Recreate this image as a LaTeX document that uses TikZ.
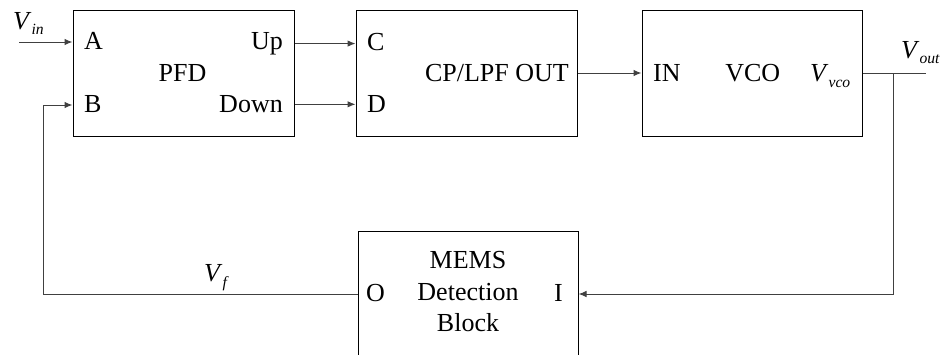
\documentclass[tikz,border=0pt]{standalone}
\usepackage{fontspec}
\setmainfont{Liberation Serif}
\usetikzlibrary{positioning,arrows.meta}
% italic signal name with a small italic index
\newcommand{\sig}[2]{\textit{#1}\raisebox{-5.5pt}{\fontsize{15.6}{16}\selectfont\textit{#2}}}
\tikzset{
    block/.style={draw, line width=1pt, minimum width=221pt, minimum height=126pt, inner sep=0pt}, % the four boxes
    port/.style={inner sep=0pt}, % pin names inside the boxes
    wire/.style={line width=1pt, draw=black!75},
    feed/.style={wire, -{Latex[length=8pt,width=6.5pt]}}, % wire with an arrow head
}

\begin{document}
\begin{tikzpicture}[x=1pt,y=-1pt,font=\fontsize{26}{31.7}\selectfont]
    \clip (0,0) rectangle (940,354);
    % blocks
    \node[block] (pfd) at (183.5,73) {};
    \node[block] (cp) at (466.5,73) {};
    \node[block, minimum width=220pt] (vco) at (752,73) {};
    \node[block, minimum width=220pt] (mems) at (468,294) {};
    % pin names
    \node[port, anchor=base west] (a) at (84,49.5) {A};
    \node[port, anchor=base west] (b) at (84,112.7) {B};
    \node[port, anchor=base east] (up) at (283,49.3) {Up};
    \node[port, anchor=base east] (down) at (283,112.7) {Down};
    \node[port, anchor=base] (pfdname) at (182.5,81.7) {PFD};
    \node[port, anchor=base west] (c) at (367,50) {C};
    \node[port, anchor=base west] (d) at (367,112.7) {D};
    \node[port, anchor=base east] (cpout) at (569,81.7) {CP/LPF OUT};
    \node[port, anchor=base west] (in) at (653,81.7) {IN};
    \node[port, anchor=base] (vconame) at (752.7,81.7) {VCO};
    \node[port, anchor=base west] (vvco) at (810,81.7) {\sig{V}{vco}};
    \node[port, anchor=base, align=center] (memsname) at (468,331.7) {MEMS\\Detection\\Block};
    \node[port, anchor=base west] (o) at (366,301.7) {O};
    \node[port, anchor=base east] (i) at (563,301.7) {I};
    % signal names
    \node[port, anchor=base west] (vinlabel) at (13,29.3) {\sig{V}{in}};
    \node[port, anchor=base west] (voutlabel) at (901,58.3) {\sig{V}{out}};
    \node[port, anchor=base west] (vflabel) at (204,281.7) {\sig{V}{f}};
    % wire ends
    \coordinate (vin) at (19,42);
    \coordinate (vout) at (925.7,73);
    \coordinate (tap) at (893.5,73);
    \coordinate (fb) at (43,105);
    % wires
    \draw[feed] (vin) -- (pfd.west |- vin);
    \draw[feed] (pfd.east |- up) -- (cp.west |- up);
    \draw[feed] (pfd.east |- down) -- (cp.west |- down);
    \draw[feed] (cp) -- (vco);
    \draw[wire] (vco) -- (vout);
    \draw[feed] (tap) |- (mems);
    \draw[feed] (mems) -| (fb) -- (pfd.west |- fb);
\end{tikzpicture}
\end{document}
